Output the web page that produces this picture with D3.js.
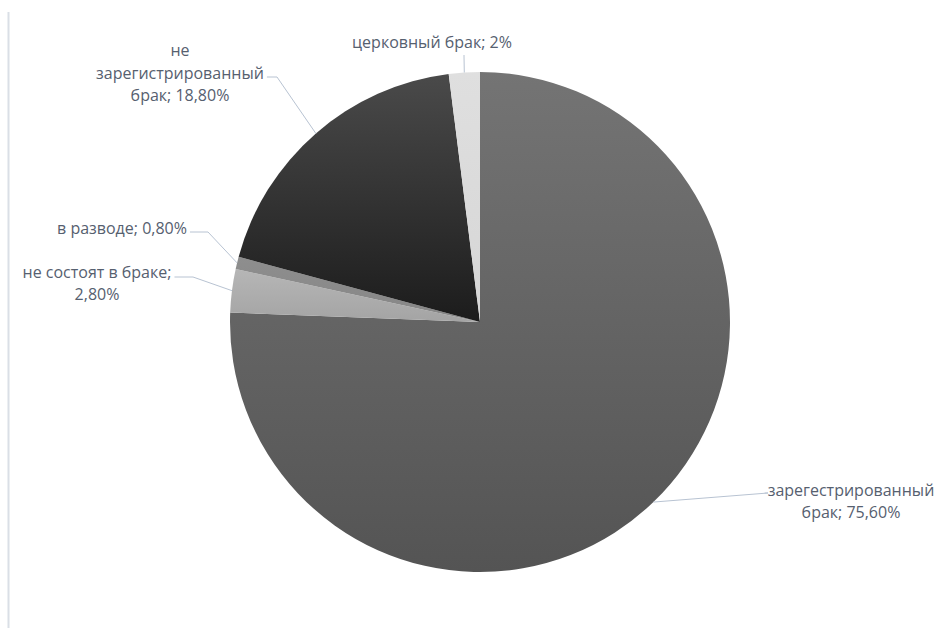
<!DOCTYPE html>
<html>
<head>
<meta charset="utf-8">
<script src="https://cdn.jsdelivr.net/npm/d3@7"></script>
<style>
  body { margin: 0; background: #fff; }
  text { font-family: "Open Sans", sans-serif; }
</style>
</head>
<body>
<div id="chart"></div>
<script>
// data
var categories = ["зарегестрированный брак", "не состоят в браке", "в разводе", "не зарегистрированный брак", "церковный брак"];
var values = [75.6, 2.8, 0.8, 18.8, 2];
var valueLabels = ["75,60%", "2,80%", "0,80%", "18,80%", "2%"];
var labelLines = [
    ["зарегестрированный", "брак; 75,60%"],
    ["не состоят в браке;", "2,80%"],
    ["в разводе; 0,80%"],
    ["не", "зарегистрированный", "брак; 18,80%"],
    ["церковный брак; 2%"]
];

// layout
var width = 936, height = 628,
    cx = 480, cy = 322, radius = 250;

// slice gradients (top, bottom)
var fills = [
    ["#747474", "#545454"],
    ["#b6b6b6", "#a4a4a4"],
    ["#8e8e8e", "#868686"],
    ["#4a4a4a", "#1c1c1c"],
    ["#dfdfdf", "#d6d6d6"]
];

// label block: center x, first baseline, line height, leader elbow, line the leader points to
var labelLayout = [
    { x: 851, y: 496, lh: 21.5, elbow: [768, 493], line: 0 },
    { x: 97,  y: 278, lh: 22, elbow: [193, 277], line: 0 },
    { x: 122, y: 234, lh: 22, elbow: [208, 232], line: 0 },
    { x: 180, y: 56,  lh: 22.5, elbow: [277, 77], line: 1 },
    { x: 432, y: 48,  lh: 22, elbow: [464, 56], line: null }
];

var svg = d3.select("#chart").append("svg")
    .attr("width", width)
    .attr("height", height);

// left border line
svg.append("line")
    .attr("x1", 8.5).attr("x2", 8.5)
    .attr("y1", 12).attr("y2", height)
    .attr("stroke", "#dadfe6")
    .attr("stroke-width", 2);

var defs = svg.append("defs");
fills.forEach(function(f, i) {
    var g = defs.append("linearGradient")
        .attr("id", "grad" + i)
        .attr("x1", 0).attr("y1", 0).attr("x2", 0).attr("y2", 1);
    g.append("stop").attr("offset", "0%").attr("stop-color", f[0]);
    g.append("stop").attr("offset", "100%").attr("stop-color", f[1]);
});

var pie = d3.pie().sort(null).value(function(d) { return d; });
var arcs = pie(values);

var arc = d3.arc().innerRadius(0).outerRadius(radius);

var g = svg.append("g")
    .attr("transform", "translate(" + cx + "," + cy + ")");

g.selectAll("path")
    .data(arcs)
    .enter()
    .append("path")
    .attr("d", arc)
    .attr("fill", function(d, i) { return "url(#grad" + i + ")"; });

var leaderG = svg.append("g");

// labels
var labels = svg.append("g")
    .selectAll("text")
    .data(labelLines)
    .enter()
    .append("text")
    .attr("text-anchor", "middle")
    .attr("fill", "#56606f")
    .style("font-size", "16px");

labels.each(function(lines, i) {
    var L = labelLayout[i];
    d3.select(this).selectAll("tspan")
        .data(lines)
        .enter()
        .append("tspan")
        .attr("x", L.x)
        .attr("y", function(d, j) { return L.y + j * L.lh; })
        .text(function(d) { return d; });
});

// leader lines: from the arc edge at mid angle to the label
leaderG.selectAll("polyline")
    .data(arcs)
    .enter()
    .append("polyline")
    .attr("fill", "none")
    .attr("stroke", "#b8c3d2")
    .attr("stroke-width", 1)
    .attr("points", function(d, i) {
        var a = (d.startAngle + d.endAngle) / 2;
        var px = cx + radius * Math.sin(a),
            py = cy - radius * Math.cos(a);
        var L = labelLayout[i];
        var end;
        if (L.line === null) {
            end = [L.elbow[0], L.elbow[1] - 1];
        } else {
            var tspan = labels.nodes()[i].childNodes[L.line];
            var w = tspan.getComputedTextLength();
            var ex = L.elbow[0] > L.x ? L.x + w / 2 + 3 : L.x - w / 2 - 3;
            end = [ex, L.elbow[1]];
        }
        return [[px, py], L.elbow, end].map(function(p) { return p.join(","); }).join(" ");
    });
</script>
</body>
</html>
